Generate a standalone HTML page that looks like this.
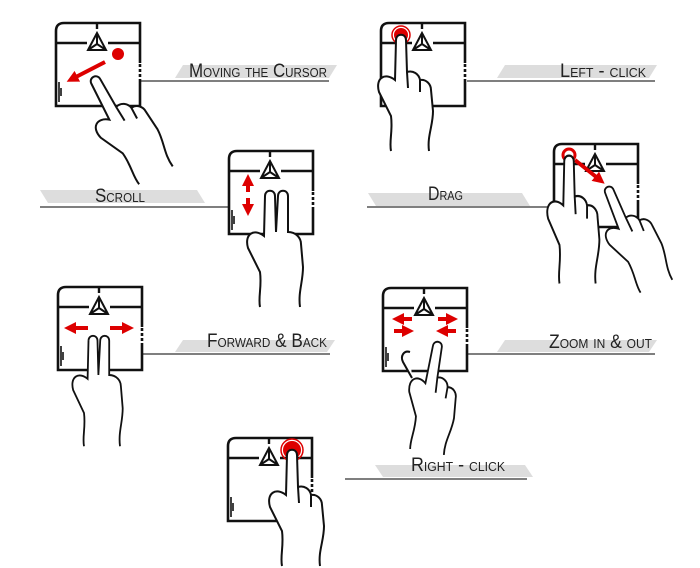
<!DOCTYPE html>
<html><head><meta charset="utf-8"><style>
html,body{margin:0;padding:0;background:#fff;}
svg{display:block;}
text{font-family:"Liberation Sans",sans-serif;font-variant:small-caps;fill:#222;font-size:19px;}
</style></head><body>
<svg width="700" height="568" viewBox="0 0 700 568" xmlns="http://www.w3.org/2000/svg">
<defs>
<g id="pad">
<path d="M1,84 L1,9 Q1,1 9,1 L85,1 L85,84 Z" fill="#fff" stroke="#111" stroke-width="2.6"/>
<path d="M85,41 L85,57" stroke="#fff" stroke-width="4"/>
<path d="M85,42 L85,56" stroke="#111" stroke-width="2.6" stroke-dasharray="3,2"/>
<path d="M1,21 L32,21 M53,21 L85,21 M42,1 L42,7" stroke="#111" stroke-width="2.4" fill="none"/>
<path d="M42,11 L33,28 L51,28 Z M42,11 L42,22 M33,28 L42,22 L51,28" stroke="#111" stroke-width="2" fill="none"/>
<path d="M4,60 L4,80 M6,66 L6,74" stroke="#111" stroke-width="1.6"/>
</g>
<g id="hand">
<path d="M-5,4 C-5,-3 5,-3 5,4 L6,36 C12,34 18,38 19,44 C25,43 30,48 30,54 L32,75 C32,90 26,100 28,115 L-10,115 C-12,105 -8,95 -10,80 L-22,56 C-26,42 -16,36 -6,44 Z" fill="#fff"/>
<path d="M-5,4 C-5,-3 5,-3 5,4 L6,36 C12,34 18,38 19,44 C25,43 30,48 30,54 L32,75 C32,90 26,100 28,115 M-10,115 C-12,105 -8,95 -10,80 L-22,56 C-26,42 -16,36 -6,44 L-5,4 M6,36 L7,52 M19,44 L19,56" fill="none" stroke="#111" stroke-width="2"/>
</g>
<g id="hand2">
<path d="M-5,4 C-5,-3 5,-3 5,4 L6,40 L8,4 C8,-3 18,-3 18,4 L18,40 C26,40 31,46 31,52 L33,75 C33,90 28,100 30,115 L-10,115 C-12,105 -8,95 -10,80 L-22,56 C-26,42 -16,36 -6,44 Z" fill="#fff"/>
<path d="M-5,4 C-5,-3 5,-3 5,4 L6,40 L8,4 C8,-3 18,-3 18,4 L18,40 C26,40 31,46 31,52 L33,75 C33,90 28,100 30,115 M-10,115 C-12,105 -8,95 -10,80 L-22,56 C-26,42 -16,36 -6,44 L-5,4" fill="none" stroke="#111" stroke-width="2"/>
</g>
<marker id="ah" viewBox="0 0 10 10" refX="5" refY="5" markerWidth="3" markerHeight="3" orient="auto"><path d="M0,0 L10,5 L0,10 Z" fill="#d00"/></marker>
</defs>

<g fill="#ddd">
<polygon points="183,65 337,65 329,78 175,78"/>
<polygon points="505,65 657,65 649,78 497,78"/>
<polygon points="40,190 197,190 205,203 48,203"/>
<polygon points="368,193 522,193 530,206 376,206"/>
<polygon points="183,340 335,340 327,352 175,352"/>
<polygon points="505,340 657,340 649,352 497,352"/>
<polygon points="375,465 525,465 533,477 383,477"/>
</g>
<g stroke="#333" stroke-width="1.3">
<line x1="140" y1="81" x2="329" y2="81"/>
<line x1="467" y1="81" x2="655" y2="81"/>
<line x1="40" y1="207" x2="228" y2="207"/>
<line x1="367" y1="207" x2="553" y2="207"/>
<line x1="143" y1="354" x2="330" y2="354"/>
<line x1="467" y1="354" x2="655" y2="354"/>
<line x1="345" y1="479" x2="527" y2="479"/>
</g>
<text x="189" y="77" textLength="138" lengthAdjust="spacingAndGlyphs">Moving the Cursor</text>
<text x="560" y="77" textLength="86" lengthAdjust="spacingAndGlyphs">Left - click</text>
<text x="95" y="202" textLength="50" lengthAdjust="spacingAndGlyphs">Scroll</text>
<text x="428" y="200" textLength="35" lengthAdjust="spacingAndGlyphs">Drag</text>
<text x="207" y="347" textLength="120" lengthAdjust="spacingAndGlyphs">Forward &amp; Back</text>
<text x="549" y="348" textLength="103" lengthAdjust="spacingAndGlyphs">Zoom in &amp; out</text>
<text x="411" y="471" textLength="94" lengthAdjust="spacingAndGlyphs">Right - click</text>

<use href="#pad" x="55" y="22"/>
<circle cx="118" cy="54" r="6" fill="#d00"/>
<line x1="105" y1="62" x2="72" y2="79" stroke="#d00" stroke-width="4" marker-end="url(#ah)"/>
<use href="#hand" transform="translate(94,78) rotate(-28)"/>

<use href="#pad" x="380" y="22"/>
<circle cx="401" cy="35" r="7" fill="#d00"/>
<circle cx="401" cy="35" r="9" fill="none" stroke="#d00" stroke-width="1.5"/>
<use href="#hand" transform="translate(401,36)"/>

<use href="#pad" x="228" y="150"/>
<line x1="248" y1="192" x2="248" y2="180" stroke="#d00" stroke-width="4" marker-end="url(#ah)"/>
<line x1="248" y1="198" x2="248" y2="210" stroke="#d00" stroke-width="4" marker-end="url(#ah)"/>
<use href="#hand2" transform="translate(270,192)"/>

<use href="#pad" x="553" y="143"/>
<circle cx="569" cy="155" r="6" fill="none" stroke="#d00" stroke-width="3"/>
<line x1="575" y1="160" x2="600" y2="180" stroke="#d00" stroke-width="4" marker-end="url(#ah)"/>
<use href="#hand" transform="translate(569,157) scale(0.95,1.1)"/>
<use href="#hand" transform="translate(608,188) rotate(-22) scale(0.9,0.95)"/>

<use href="#pad" x="57" y="286"/>
<line x1="88" y1="328" x2="70" y2="328" stroke="#d00" stroke-width="4" marker-end="url(#ah)"/>
<line x1="110" y1="328" x2="128" y2="328" stroke="#d00" stroke-width="4" marker-end="url(#ah)"/>
<use href="#hand2" transform="translate(93,337) scale(0.9,0.95)"/>

<use href="#pad" x="382" y="287"/>
<g stroke="#d00" stroke-width="4" marker-end="url(#ah)">
<line x1="412" y1="319" x2="398" y2="319"/>
<line x1="438" y1="319" x2="452" y2="319"/>
<line x1="394" y1="331" x2="408" y2="331"/>
<line x1="456" y1="331" x2="442" y2="331"/>
</g>
<use href="#hand" transform="translate(438,343) rotate(10) scale(0.9,0.95)"/>
<path d="M410,352 C404,350 400,356 403,362 L412,378" fill="#fff" stroke="#111" stroke-width="2"/>

<use href="#pad" x="227" y="437"/>
<circle cx="292" cy="450" r="9" fill="#d00"/>
<circle cx="292" cy="450" r="11" fill="none" stroke="#d00" stroke-width="1.5"/>
<use href="#hand" transform="translate(292,451)"/>
</svg>
</body></html>
